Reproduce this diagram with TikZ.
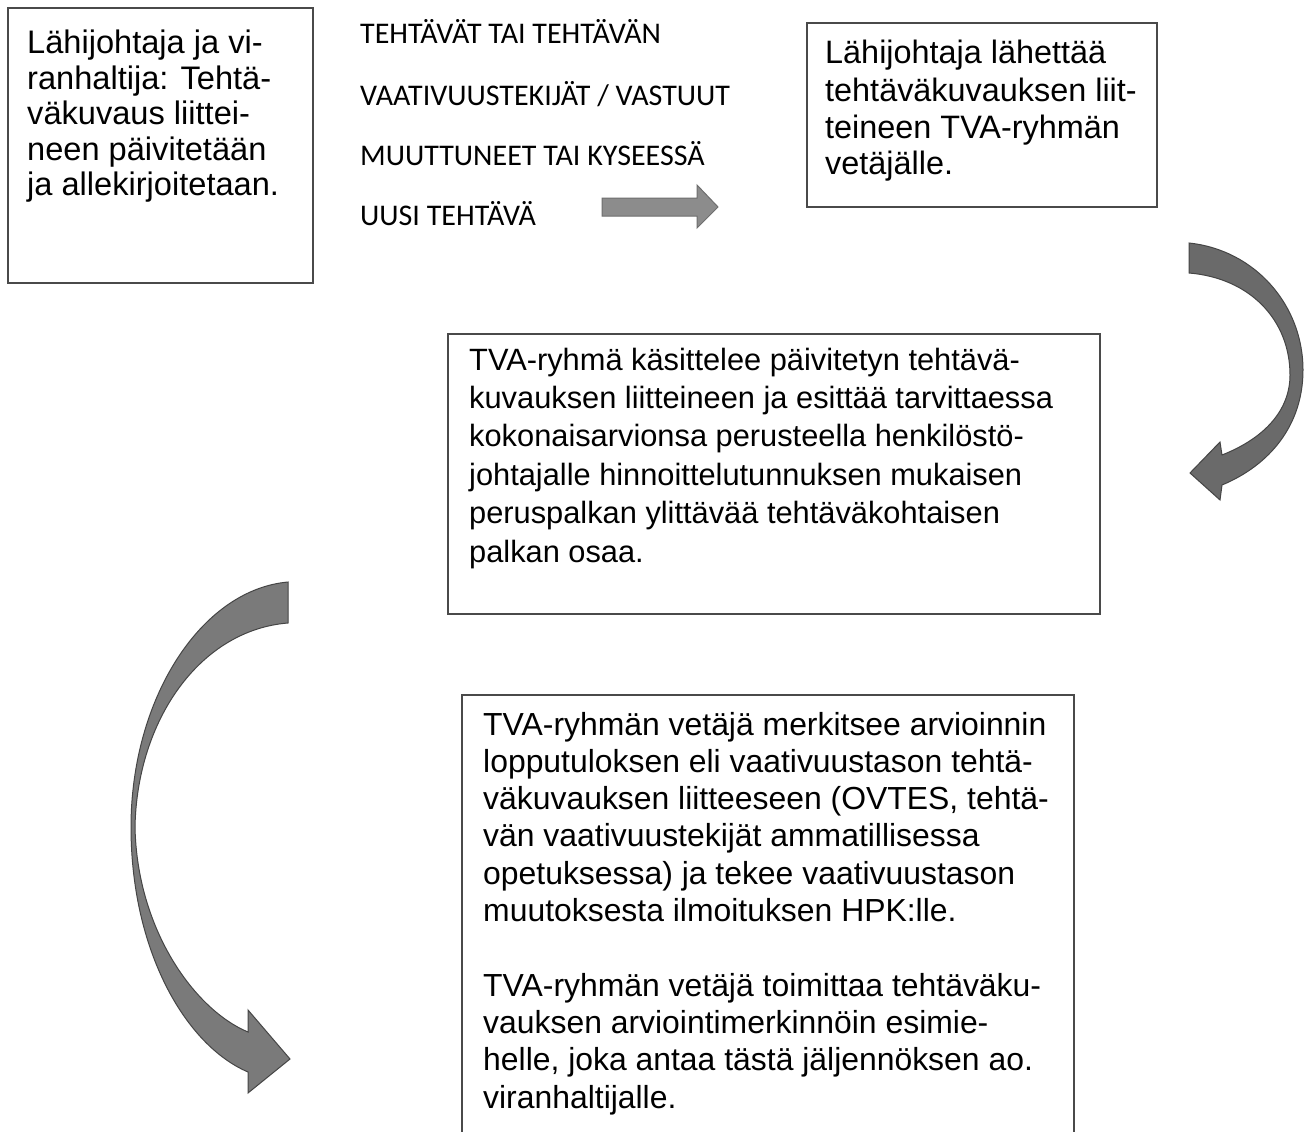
\documentclass[tikz,border=0pt]{standalone}
\usepackage{fontspec}
\setmainfont{Liberation Sans}
\newfontfamily\calfont{Carlito}
\definecolor{boxline}{HTML}{4A4A4A}
\definecolor{arrstraight}{HTML}{8C8C8C}
\definecolor{arrstraightline}{HTML}{6E6E6E}
\definecolor{arrright}{HTML}{6A6A6A}
\definecolor{arrleft}{HTML}{7A7A7A}
\definecolor{arrline}{HTML}{454545}
\begin{document}
\begin{tikzpicture}[x=1pt,y=-1pt,
  box/.style={draw=boxline, line width=1.4pt, inner sep=0pt, outer sep=0pt, anchor=north west},
  txtA/.style={anchor=base west, inner sep=0pt, font=\fontsize{32.6}{35.5}\selectfont},
  txtB/.style={anchor=base west, inner sep=0pt, font=\fontsize{32.4}{37}\selectfont},
  txtC/.style={anchor=base west, inner sep=0pt, font=\fontsize{30.8}{38.4}\selectfont},
  txtD/.style={anchor=base west, inner sep=0pt, font=\fontsize{31.9}{37.3}\selectfont},
  small/.style={anchor=base west, inner sep=0pt, font=\calfont\fontsize{30}{31}\selectfont},
  blockarrow/.style={line width=1pt, line join=miter},
]
\useasboundingbox (0,0) rectangle (1307,1132);
\fill[white] (0,0) rectangle (1307,1132);

% boxes
\node[box, minimum width=305pt, minimum height=275pt] (b1) at (8,8) {};
\node[box, minimum width=350pt, minimum height=184pt] (b2) at (807,23) {};
\node[box, minimum width=652pt, minimum height=280pt] (b3) at (448,334) {};
\begin{scope}
  \clip (0,0) rectangle (1307,1132);
  \node[box, minimum width=612pt, minimum height=470pt] (b4) at (462,695) {};
\end{scope}

% texts
\node[txtA] (t1) at (27,54) {\parbox[t]{300pt}{\raggedright
Lähijohtaja ja vi-\\
ranhaltija: Tehtä-\\
väkuvaus liittei-\\
neen päivitetään\\
ja allekirjoitetaan.}};

\node[txtB] (t2) at (825,64) {\parbox[t]{340pt}{\raggedright
Lähijohtaja lähettää\\
tehtäväkuvauksen liit-\\
teineen TVA-ryhmän\\
vetäjälle.}};

\node[txtC] (t3) at (469,370) {\parbox[t]{640pt}{\raggedright
TVA-ryhmä käsittelee päivitetyn tehtävä-\\
kuvauksen liitteineen ja esittää tarvittaessa\\
kokonaisarvionsa perusteella henkilöstö-\\
johtajalle hinnoittelutunnuksen mukaisen\\
peruspalkan ylittävää tehtäväkohtaisen\\
palkan osaa.}};

\node[txtD] (t4) at (483,735) {\parbox[t]{600pt}{\raggedright
TVA-ryhmän vetäjä merkitsee arvioinnin\\
lopputuloksen eli vaativuustason tehtä-\\
väkuvauksen liitteeseen (OVTES, tehtä-\\
vän vaativuustekijät ammatillisessa\\
opetuksessa) ja tekee vaativuustason\\
muutoksesta ilmoituksen HPK:lle.\\[37.3pt]
TVA-ryhmän vetäjä toimittaa tehtäväku-\\
vauksen arviointimerkinnöin esimie-\\
helle, joka antaa tästä jäljennöksen ao.\\
viranhaltijalle.}};

% small caption text
\node[small] (s1) at (360,44) {TEHTÄVÄT TAI TEHTÄVÄN};
\node[small] (s2) at (360,105) {VAATIVUUSTEKIJÄT / VASTUUT};
\node[small] (s3) at (360,165) {MUUTTUNEET TAI KYSEESSÄ};
\node[small] (s4) at (360,225) {UUSI TEHTÄVÄ};

% straight block arrow
\draw[blockarrow, fill=arrstraight, draw=arrstraightline]
  (602,198) -- (697,198) -- (697,185) -- (718,207) -- (697,228) -- (697,216) -- (602,216) -- cycle;

% right curved arrow
\draw[blockarrow, fill=arrright, draw=arrline]
  (1189,243) .. controls (1255,250) and (1303,305) .. (1303,370)
  .. controls (1303,425) and (1270,465) .. (1222,485)
  -- (1220,500) -- (1190,473) -- (1220,442) -- (1222,455)
  .. controls (1265,438) and (1290,410) .. (1290,375)
  .. controls (1290,320) and (1250,278) .. (1189,273) -- cycle;

% left curved arrow
\draw[blockarrow, fill=arrleft, draw=arrline]
  (288,582) .. controls (200,590) and (131,700) .. (131,827)
  .. controls (131,950) and (185,1045) .. (248,1072)
  -- (248,1093) -- (290,1059) -- (248,1010) -- (248,1032)
  .. controls (195,1010) and (137,930) .. (135,827)
  .. controls (137,720) and (200,630) .. (288,623) -- cycle;
\end{tikzpicture}
\end{document}
